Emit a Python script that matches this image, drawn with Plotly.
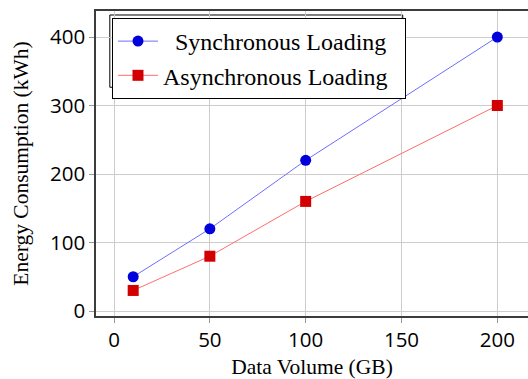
import plotly.graph_objects as go

data_volume = [10, 50, 100, 200]
sync_energy = [50, 120, 220, 400]
async_energy = [30, 80, 160, 300]
x_ticks = [0, 50, 100, 150, 200]
y_ticks = [0, 100, 200, 300, 400]
series_names = ["\u00a0\u00a0Synchronous Loading", "Asynchronous Loading\u00a0\u00a0"]

fig = go.Figure()
fig.add_trace(go.Scatter(x=data_volume, y=sync_energy, mode="lines+markers",
                         name=series_names[0],
                         line=dict(color="rgb(110,110,255)", width=1),
                         marker=dict(symbol="circle", size=11, color="rgb(0,0,220)")))
fig.add_trace(go.Scatter(x=data_volume, y=async_energy, mode="lines+markers",
                         name=series_names[1],
                         line=dict(color="rgb(255,110,110)", width=1),
                         marker=dict(symbol="square", size=11, color="rgb(210,0,0)")))

fig.update_layout(
    width=528, height=379,
    margin=dict(l=96, r=0, t=11, b=63),
    plot_bgcolor="white", paper_bgcolor="white",
    showlegend=True,
    legend=dict(x=0.037, y=0.977, xanchor="left", yanchor="top",
                bordercolor="black", borderwidth=1, bgcolor="white",
                font=dict(family="Liberation Serif", size=24, color="black"),
                itemwidth=40, tracegroupgap=0),
    shapes=[dict(type="rect", xref="paper", yref="paper",
                 x0=0.032, x1=0.71, y0=0.75, y1=0.9869,
                 line=dict(color="black", width=1), layer="below")],
    xaxis=dict(range=[-9.4, 216], tickvals=x_ticks, showgrid=True, gridcolor="rgb(205,205,205)",
               showline=True, linecolor="rgb(60,60,60)", linewidth=1.5, mirror=True,
               ticks="outside", ticklen=5, tickcolor="rgb(150,150,150)",
               tickfont=dict(family="Open Sans", size=20.5, color="black"), zeroline=False,
               title=dict(text="Data Volume (GB)", standoff=8,
                          font=dict(family="Liberation Serif", size=21.5, color="black"))),
    yaxis=dict(range=[-7.3, 438], tickvals=y_ticks, showgrid=True, gridcolor="rgb(205,205,205)",
               showline=True, linecolor="rgb(60,60,60)", linewidth=1.5, mirror=False,
               ticks="outside", ticklen=5, tickcolor="rgb(150,150,150)",
               tickfont=dict(family="Open Sans", size=20.5, color="black"), zeroline=False,
               title=dict(text="Energy Consumption (kWh)",
                          font=dict(family="Liberation Serif", size=21.5, color="black"))),
)
fig.write_html("out.html", config={"displayModeBar": False},
               post_script="document.body.style.margin='0';")
